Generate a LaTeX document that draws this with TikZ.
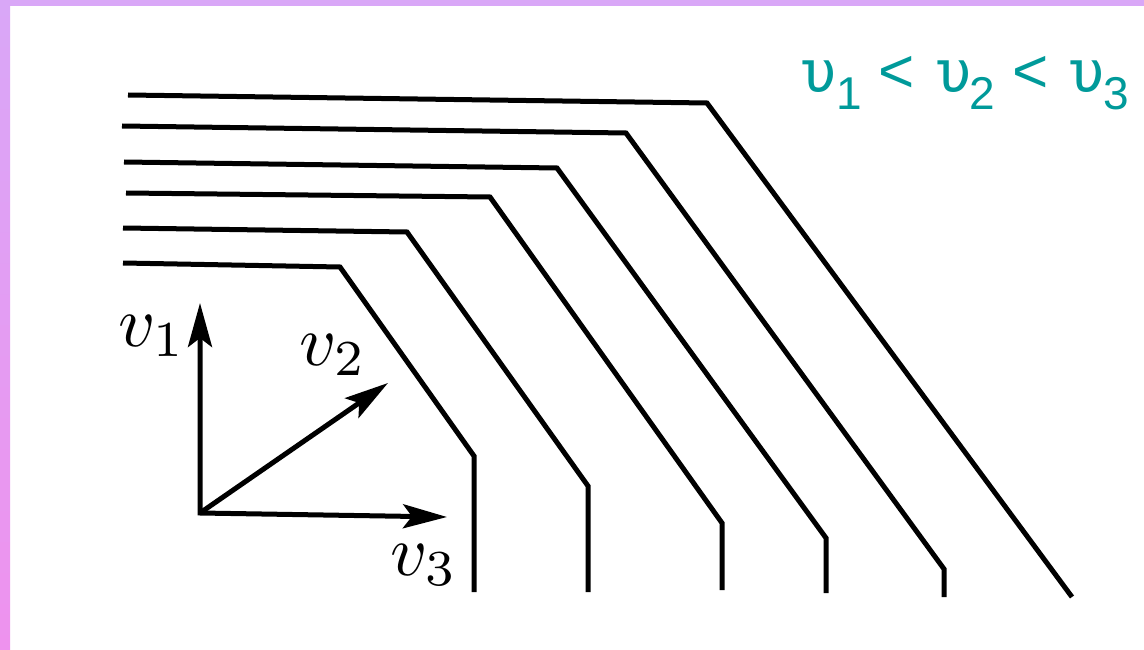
\documentclass[tikz,border=0pt]{standalone}
\usepackage{graphicx}
\usepackage{fontspec}
\newfontfamily\arialf{Liberation Sans}
\newfontfamily\upsf{DejaVu Sans Mono}
\usetikzlibrary{arrows.meta}
\definecolor{tealtxt}{HTML}{009A9A}
\definecolor{frameA}{HTML}{D9A7F7}
\definecolor{frameB}{HTML}{EE92EE}
\begin{document}
\begin{tikzpicture}[x=1pt,y=-1pt,
  wave/.style={line width=5pt},
  axis/.style={line width=5pt},
  tipA/.tip={Stealth[length=44pt,width=24pt,inset=9pt]},
  lab/.style={inner sep=0pt},
  ups/.style={anchor=base,inner sep=0pt,text=tealtxt,font=\upsf\fontsize{58}{60}\selectfont},
  subs/.style={anchor=base,inner sep=0pt,text=tealtxt,font=\arialf\fontsize{46}{48}\selectfont},
  rel/.style={anchor=base,inner sep=0pt,text=tealtxt,font=\arialf\fontsize{62}{64}\selectfont}]
\useasboundingbox (0,0) rectangle (1144,650);
\fill[white] (0,0) rectangle (1144,650);
\fill[frameA] (0,0) rectangle (1144,6);
\shade[top color=frameA,bottom color=frameB] (0,0) rectangle (10,650);
% wave fronts
\draw[wave] (128,95) -- (707,103) -- (1072,597);
\draw[wave] (122,126) -- (626,133) -- (944,569) -- (944,597);
\draw[wave] (124,162) -- (557,168) -- (826,538) -- (826,593);
\draw[wave] (126,193) -- (490,197) -- (722,523) -- (722,590);
\draw[wave] (123,228) -- (407,232) -- (588,486) -- (588,592);
\draw[wave] (123,263) -- (340,267) -- (474,456) -- (474,592);
% axes
\coordinate (O) at (200,513);
\coordinate (T1) at (200,303);
\coordinate (T2) at (388,383);
\coordinate (T3) at (447,517);
\draw[axis,{tipA}-{tipA}] (T1) -- (O) -- (T3);
\draw[axis,-{tipA}] (O) -- (T2);
\node[lab] (L1) at (152,336) {\scalebox{7.2}{$v_1$}};
\node[lab] (L2) at (333,355) {\scalebox{7.2}{$v_2$}};
\node[lab] (L3) at (424,565) {\scalebox{7.2}{$v_3$}};
% relation
\node[ups] (u1) at (819,93) {υ};
\node[subs] (s1) at (849,110) {1};
\node[rel] (r1) at (897,93) {<};
\node[ups] (u2) at (954,93) {υ};
\node[subs] (s2) at (982,110) {2};
\node[rel] (r2) at (1031,93) {<};
\node[ups] (u3) at (1087,93) {υ};
\node[subs] (s3) at (1116,110) {3};
\end{tikzpicture}
\end{document}
